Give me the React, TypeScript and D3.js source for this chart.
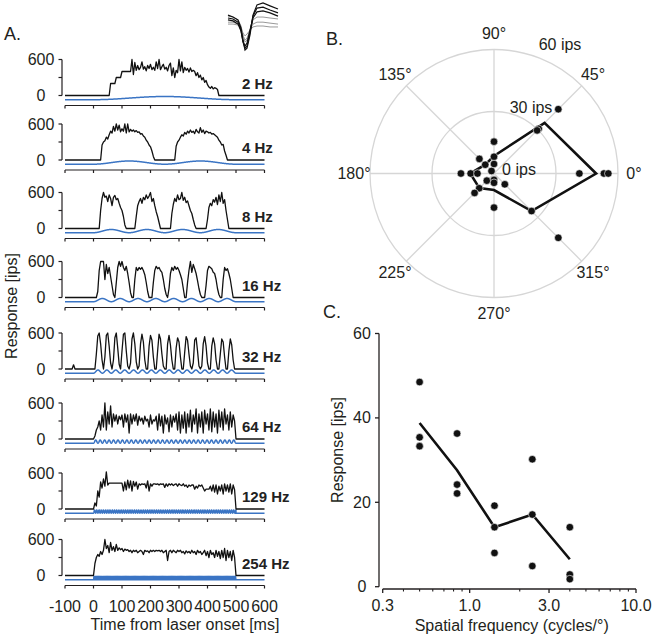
import React from "react";
import * as d3 from "d3";

const FONT = "'Liberation Sans', Arial, Helvetica, sans-serif";

// ---------- Panel A: responses to laser stimulation ----------
const stimFreqs = [2, 4, 8, 16, 32, 64, 129, 254];
const freqLabels = ["2 Hz", "4 Hz", "8 Hz", "16 Hz", "32 Hz", "64 Hz", "129 Hz", "254 Hz"];
const timeTicks = [-100, 0, 100, 200, 300, 400, 500, 600];
const rateTicks = [0, 300, 600];
const rateLabelValues = [0, 600];
const BIN_MS = 5;
// first bin time (ms) of each response array
const respStart = [0, 0, 0, 0, -100, 0, 0, 0];

const resp2Hz = [
  0, 0, 0, 0, 0, 0, 0, 0, 0, 0,
  0, 0, 200, 200, 200, 200, 300, 300, 300, 300,
  400, 400, 400, 400, 400, 400, 400, 600, 350, 550,
  420, 500, 430, 470, 560, 440, 480, 410, 500, 450,
  520, 430, 470, 420, 560, 450, 600, 430, 480, 520,
  440, 470, 410, 500, 540, 330, 460, 300, 420, 380,
  600, 410, 560, 380, 470, 420, 450, 390, 460, 400,
  420, 400, 330, 380, 300, 340, 260, 300, 220, 250,
  180, 140, 120, 150, 110, 130, 120, 100, 0, 0,
  0, 0, 0, 0, 0, 0, 0, 0, 0, 0,
  0,
];
const resp4Hz = [
  0, 0, 0, 0, 0, 0, 250, 300, 320, 380,
  350, 420, 480, 450, 560, 480, 600, 500, 580, 470,
  520, 480, 600, 450, 600, 470, 510, 480, 500, 470,
  490, 460, 470, 430, 440, 400, 380, 330, 300, 250,
  220, 150, 60, 0, 0, 0, 0, 0, 0, 0,
  0, 0, 0, 0, 0, 0, 0, 0, 230, 300,
  330, 380, 420, 400, 460, 430, 480, 450, 500, 460,
  480, 440, 510, 470, 450, 540, 460, 500, 440, 480,
  470, 450, 460, 430, 440, 420, 400, 380, 330, 300,
  250, 260, 150, 80, 0, 0, 0, 0, 0, 0,
  0,
];
const resp8Hz = [
  0, 0, 0, 0, 0, 300, 500, 600, 520, 540,
  450, 560, 500, 380, 520, 550, 480, 500, 420, 350,
  300, 200, 60, 0, 0, 0, 0, 0, 0, 0,
  200, 380, 450, 500, 420, 520, 480, 560, 500, 540,
  600, 450, 500, 380, 280, 200, 100, 0, 0, 0,
  0, 0, 0, 0, 0, 250, 400, 500, 450, 560,
  480, 500, 600, 470, 520, 430, 460, 380, 300, 250,
  150, 60, 0, 0, 0, 0, 0, 0, 0, 0,
  150, 350, 420, 380, 480, 440, 520, 400, 560, 450,
  600, 420, 480, 300, 150, 0, 0, 0, 0, 0,
  0,
];
const resp16Hz = [
  0, 0, 0, 100, 450, 600, 600, 600, 300, 550,
  400, 500, 350, 200, 50, 0, 250, 500, 600, 520,
  600, 500, 450, 520, 400, 250, 80, 0, 0, 300,
  500, 450, 500, 470, 500, 450, 380, 250, 100, 0,
  0, 0, 250, 450, 520, 480, 500, 450, 420, 300,
  150, 50, 0, 150, 400, 500, 450, 520, 470, 500,
  450, 380, 300, 150, 0, 0, 250, 450, 600, 420,
  550, 480, 400, 280, 150, 50, 0, 0, 0, 200,
  450, 520, 500, 480, 420, 400, 300, 150, 50, 0,
  0, 300, 500, 450, 480, 400, 300, 150, 0, 0,
  0,
];
const resp32Hz = [
  0, 0, 0, 0, 0, 0, 70, 0, 0, 0,
  0, 0, 0, 0, 0, 0, 0, 0, 0, 0,
  0, 0, 250, 550, 600, 420, 150, 0, 200, 560,
  600, 380, 100, 0, 150, 520, 600, 350, 80, 0,
  300, 580, 600, 300, 50, 0, 100, 500, 600, 420,
  120, 0, 50, 420, 580, 450, 150, 0, 0, 380,
  560, 480, 200, 0, 0, 300, 580, 500, 250, 50,
  0, 0, 420, 560, 400, 150, 0, 0, 350, 520,
  450, 200, 0, 0, 280, 540, 480, 250, 50, 0,
  100, 480, 520, 300, 50, 0, 50, 420, 540, 380,
  100, 0, 0, 380, 520, 420, 150, 0, 0, 250,
  500, 450, 200, 0, 0, 300, 500, 400, 150, 0,
  0,
];
const resp64Hz = [
  0, 50, 150, 200, 300, 150, 400, 200, 600, 150,
  450, 250, 550, 200, 420, 300, 400, 250, 380, 320,
  400, 200, 420, 280, 400, 100, 420, 250, 400, 300,
  420, 230, 380, 300, 350, 250, 380, 300, 330, 200,
  400, 250, 320, 300, 380, 150, 420, 220, 380, 100,
  400, 250, 350, 120, 400, 200, 380, 280, 420, 150,
  450, 100, 400, 180, 450, 100, 420, 200, 480, 120,
  400, 250, 500, 100, 420, 200, 450, 100, 480, 250,
  420, 150, 500, 120, 450, 200, 420, 100, 480, 200,
  450, 150, 500, 250, 400, 150, 450, 200, 400, 300,
  0,
];
const resp129Hz = [
  0, 100, 50, 300, 200, 450, 350, 500, 380, 620,
  400, 430, 430, 430, 430, 430, 430, 430, 430, 430,
  430, 300, 450, 320, 480, 350, 470, 300, 460, 380,
  450, 330, 420, 400, 420, 410, 420, 350, 470, 300,
  420, 380, 420, 420, 410, 420, 400, 420, 410, 420,
  360, 420, 380, 420, 400, 420, 390, 410, 420, 380,
  420, 400, 390, 420, 380, 400, 360, 400, 380, 400,
  400, 330, 380, 350, 400, 380, 400, 350, 300, 330,
  330, 330, 380, 300, 400, 280, 400, 250, 380, 300,
  400, 250, 420, 300, 400, 280, 420, 250, 400, 320,
  0,
];
const resp254Hz = [
  0, 200, 300, 350, 320, 400, 350, 420, 600, 450,
  500, 380, 550, 420, 480, 400, 520, 420, 460, 430,
  450, 400, 440, 420, 430, 400, 420, 380, 420, 400,
  420, 380, 400, 420, 400, 350, 420, 400, 410, 380,
  420, 400, 420, 400, 420, 410, 420, 400, 420, 380,
  400, 420, 250, 400, 420, 380, 420, 400, 380, 420,
  400, 420, 380, 400, 360, 410, 380, 400, 370, 420,
  380, 400, 350, 420, 380, 400, 350, 380, 420, 330,
  400, 300, 420, 350, 380, 300, 420, 320, 400, 280,
  420, 300, 450, 250, 420, 300, 400, 250, 420, 300,
  0,
];
const respAll = [resp2Hz, resp4Hz, resp8Hz, resp16Hz, resp32Hz, resp64Hz, resp129Hz, resp254Hz];

// spike waveform inset (time in ms, amplitude in µV)
const waveTime = [0, 0.15, 0.3, 0.39, 0.45, 0.51, 0.57, 0.66, 0.75, 0.87, 1.05, 1.26, 1.5];
const waveGray = [
  [6, 3, -6, -25, -53, -75, -69, -38, -6, 3, 3, 0, -3],
  [-13, -13, -19, -34, -56, -69, -63, -38, -19, -13, -13, -16, -19],
  [-19, -19, -22, -31, -47, -56, -50, -38, -28, -25, -25, -28, -28],
];
const waveBlack = [
  [9, 3, -6, -31, -69, -100, -94, -53, 9, 41, 47, 38, 28],
  [0, -3, -13, -38, -75, -94, -88, -44, 6, 31, 34, 25, 16],
  [-6, -9, -19, -41, -72, -88, -78, -38, 0, 19, 22, 16, 6],
];

// ---------- Panel B: direction tuning ----------
const dirAngles = [0, 45, 90, 135, 180, 225, 270, 315];
const dirTrial1 = [41.3, 44.0, 15.4, 10.0, 16.0, 4.9, 3.1, 7.4];
const dirTrial2 = [53.2, 30.6, 8.1, 6.0, 11.3, 10.1, 16.5, 25.7];
const dirTrial3 = [55.3, 29.5, 4.6, 1.7, 8.0, 13.3, 4.5, 44.0];
const dirMean = [49.4, 34.6, 8.5, 6.0, 11.5, 10.0, 8.0, 25.7];
const radialRings = [30, 60];
const radialLabels = ["0 ips", "30 ips", "60 ips"];
const radialLabelValues = [0, 30, 60];

// ---------- Panel C: spatial frequency tuning ----------
const sfFreqs = [0.5, 0.84, 1.41, 2.38, 4.0];
const sfTrial1 = [48.5, 36.3, 19.2, 30.2, 14.1];
const sfTrial2 = [35.4, 24.2, 14.1, 17.1, 2.9];
const sfTrial3 = [33.3, 22.1, 8.0, 4.9, 1.8];
const sfMean = [38.8, 27.6, 14.1, 17.1, 6.5];
const sfMajorTicks = [0.3, 1, 3, 10];
const sfMajorLabels = ["0.3", "1.0", "3.0", "10.0"];
const sfMinorTicks = [0.4, 0.5, 0.6, 0.7, 0.8, 0.9, 2, 4, 5, 6, 7, 8, 9];
const respTicksC = [0, 20, 40, 60];

const AX = "#231f20";
const BLUE = "#3a74c4";
const GRID = "#d6d6d6";

export default function App() {
  // ----- Panel A layout -----
  const xA = d3.scaleLinear().domain([-100, 600]).range([65, 264.5]);
  const panelZero = [95.5, 160, 228.5, 297.5, 369, 439, 509, 575.5];
  const panelH = 36;

  const panels = stimFreqs.map((f, i) => {
    const z = panelZero[i];
    const y = d3.scaleLinear().domain([0, 600]).range([z, z - panelH]);
    const vals = respAll[i];
    const pts: [number, number][] = [[-100, 0]];
    vals.forEach((v, k) => pts.push([respStart[i] + k * BIN_MS, v]));
    pts.push([600, 0]);
    const line = d3.line<[number, number]>().x((d) => xA(d[0])).y((d) => y(d[1]));

    const ys = d3.scaleLinear().domain([0, 1]).range([z + 4.2, z + 1]);
    const dt = Math.min(0.5, 1000 / f / 40);
    const stim: [number, number][] = [[-100, 0]];
    for (let t = 0; t <= 500; t += dt) stim.push([t, (1 - Math.cos((2 * Math.PI * f * t) / 1000)) / 2]);
    stim.push([500, 0], [600, 0]);
    const stimLine = d3.line<[number, number]>().x((d) => xA(d[0])).y((d) => ys(d[1]));
    const axisY = z + 10;
    return (
      <g key={f}>
        <path d={stimLine(stim) || ""} fill="none" stroke={BLUE} strokeWidth={1.5} />
        <path d={line(pts) || ""} fill="none" stroke="#111" strokeWidth={1.3} strokeLinejoin="round" />
        {/* y axis */}
        <line x1={62} x2={62} y1={y(600)} y2={y(0)} stroke={AX} strokeWidth={1.2} />
        {rateTicks.map((r) => (
          <line key={r} x1={58.5} x2={62} y1={y(r)} y2={y(r)} stroke={AX} strokeWidth={1.2} />
        ))}
        {rateLabelValues.map((r) => (
          <text key={r} x={41} y={y(r)} textAnchor="middle" dominantBaseline="central" fontSize={16} fontFamily={FONT} fill={AX}>
            {r}
          </text>
        ))}
        {/* x axis */}
        <line x1={xA(-100)} x2={xA(600)} y1={axisY} y2={axisY} stroke={AX} strokeWidth={1.2} />
        {timeTicks.map((t) => (
          <line key={t} x1={xA(t)} x2={xA(t)} y1={axisY} y2={axisY + 3} stroke={AX} strokeWidth={1.2} />
        ))}
        <text x={242} y={z - 7} fontSize={15} fontWeight="bold" fontFamily={FONT} fill="#222">
          {freqLabels[i]}
        </text>
      </g>
    );
  });

  // spike waveform inset
  const xW = d3.scaleLinear().domain([0, 1.5]).range([228, 278]);
  const yW = d3.scaleLinear().domain([-100, 50]).range([50, 2]);
  const waveLine = d3.line<number>().x((_, k) => xW(waveTime[k])).y((d) => yW(d));

  // ----- Panel B -----
  const cx = 494;
  const cy = 173.5;
  const rB = d3.scaleLinear().domain([0, 60]).range([0, 124]);
  const pol = (deg: number, v: number): [number, number] => [
    cx + rB(v) * Math.cos((deg * Math.PI) / 180),
    cy - rB(v) * Math.sin((deg * Math.PI) / 180),
  ];
  const meanPts = dirAngles.map((a, k) => pol(a, dirMean[k]));
  const polyLine = d3.line().curve(d3.curveLinearClosed);
  const ipsLabelOffsets: [number, number][] = [[25, -4], [37, -66], [66, -129]];
  const dirPoints: [number, number][] = [];
  [dirTrial1, dirTrial2, dirTrial3].forEach((tr) => tr.forEach((v, k) => dirPoints.push(pol(dirAngles[k], v))));

  // ----- Panel C -----
  const xC = d3.scaleLog().domain([0.3, 10]).range([382.7, 636]);
  const yC = d3.scaleLinear().domain([0, 60]).range([586.7, 333.5]);
  const sfLine = d3.line<number>().x((_, k) => xC(sfFreqs[k])).y((d) => yC(d));
  const sfPoints: [number, number][] = [];
  [sfTrial1, sfTrial2, sfTrial3].forEach((tr) => tr.forEach((v, k) => sfPoints.push([xC(sfFreqs[k]), yC(v)])));
  const xAxisC = 589;

  return (
    <svg width={653} height={639} style={{ position: "absolute", left: 0, top: 0, background: "#fff" }} fontFamily={FONT}>
      <rect width={653} height={639} fill="#fff" />
      {/* Panel A */}
      <text x={4} y={40} fontSize={18} fill={AX}>A.</text>
      {waveGray.map((w, k) => (
        <path key={"g" + k} d={waveLine(w) || ""} fill="none" stroke="#9a9a9a" strokeWidth={1} />
      ))}
      {waveBlack.map((w, k) => (
        <path key={"b" + k} d={waveLine(w) || ""} fill="none" stroke="#111" strokeWidth={1.2} />
      ))}
      {panels}
      {timeTicks.map((t) => (
        <text key={t} x={xA(t)} y={606.5} textAnchor="middle" dominantBaseline="central" fontSize={16} fill={AX}>
          {t}
        </text>
      ))}
      <text x={185} y={624} textAnchor="middle" dominantBaseline="central" fontSize={16} fill={AX}>
        Time from laser onset [ms]
      </text>
      <text transform="translate(11,306) rotate(-90)" textAnchor="middle" dominantBaseline="central" fontSize={16} fill={AX}>
        Response [ips]
      </text>

      {/* Panel B */}
      <text x={326} y={45} fontSize={18} fill={AX}>B.</text>
      {radialRings.map((r) => (
        <circle key={r} cx={cx} cy={cy} r={rB(r)} fill="none" stroke={GRID} strokeWidth={1.3} />
      ))}
      {dirAngles.map((a) => {
        const [x2, y2] = pol(a, 60);
        return <line key={a} x1={cx} y1={cy} x2={x2} y2={y2} stroke={GRID} strokeWidth={1.3} />;
      })}
      {dirAngles.map((a) => {
        const [lx, ly] = pol(a, 60);
        const dx = lx - cx;
        const dy = ly - cy;
        const s = (rB(60) + 16) / rB(60);
        return (
          <text key={a} x={cx + dx * s} y={cy + dy * s} textAnchor="middle" dominantBaseline="central" fontSize={16} fill={AX}>
            {a}°
          </text>
        );
      })}
      {radialLabelValues.map((v, k) => (
        <text key={v} x={cx + ipsLabelOffsets[k][0]} y={cy + ipsLabelOffsets[k][1]} textAnchor="middle" dominantBaseline="central" fontSize={16} fill={AX}>
          {radialLabels[k]}
        </text>
      ))}
      <path d={polyLine(meanPts) || ""} fill="none" stroke="#111" strokeWidth={2.6} strokeLinejoin="miter" />
      {dirPoints.map((p, k) => (
        <circle key={k} cx={p[0]} cy={p[1]} r={3.8} fill="#111" stroke="#fff" strokeWidth={0.6} />
      ))}

      {/* Panel C */}
      <text x={323} y={318} fontSize={18} fill={AX}>C.</text>
      <line x1={379} x2={379} y1={yC(60)} y2={yC(0)} stroke={AX} strokeWidth={1.3} />
      {respTicksC.map((v) => (
        <g key={v}>
          <line x1={375} x2={379} y1={yC(v)} y2={yC(v)} stroke={AX} strokeWidth={1.3} />
          <text x={362} y={yC(v)} textAnchor="middle" dominantBaseline="central" fontSize={16} fill={AX}>
            {v}
          </text>
        </g>
      ))}
      <line x1={xC(0.3)} x2={xC(10)} y1={xAxisC} y2={xAxisC} stroke={AX} strokeWidth={1.3} />
      {sfMajorTicks.map((v, k) => (
        <g key={v}>
          <line x1={xC(v)} x2={xC(v)} y1={xAxisC} y2={xAxisC + 4} stroke={AX} strokeWidth={1.3} />
          <text x={xC(v)} y={605.5} textAnchor="middle" dominantBaseline="central" fontSize={16} fill={AX}>
            {sfMajorLabels[k]}
          </text>
        </g>
      ))}
      {sfMinorTicks.map((v) => (
        <line key={v} x1={xC(v)} x2={xC(v)} y1={xAxisC} y2={xAxisC + 2.5} stroke={AX} strokeWidth={1.1} />
      ))}
      <text x={511.7} y={625.5} textAnchor="middle" dominantBaseline="central" fontSize={16} fill={AX}>
        Spatial frequency (cycles/°)
      </text>
      <text transform="translate(337,450) rotate(-90)" textAnchor="middle" dominantBaseline="central" fontSize={16} fill={AX}>
        Response [ips]
      </text>
      <path d={sfLine(sfMean) || ""} fill="none" stroke="#111" strokeWidth={2.6} strokeLinejoin="miter" />
      {sfPoints.map((p, k) => (
        <circle key={k} cx={p[0]} cy={p[1]} r={3.8} fill="#111" stroke="#fff" strokeWidth={0.6} />
      ))}
    </svg>
  );
}
